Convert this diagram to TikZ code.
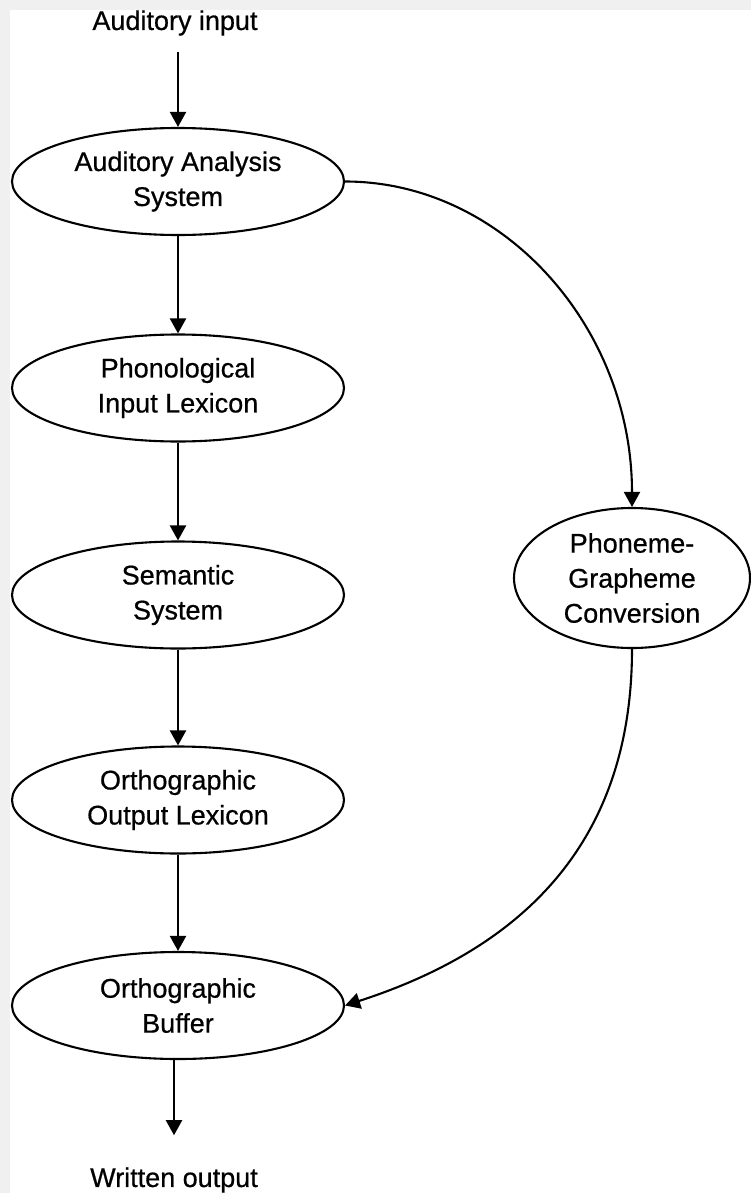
\documentclass[tikz,border=0pt]{standalone}
\usepackage{fontspec}
\setmainfont[FakeBold=0.6]{Liberation Sans}
\usetikzlibrary{shapes.geometric,arrows.meta}
\begin{document}
\begin{tikzpicture}[x=1pt,y=-1pt,
  module/.style={ellipse,draw,line width=2.1pt,inner sep=0pt,
    minimum width=332pt,minimum height=107pt,align=center,
    font=\fontsize{27}{35}\selectfont},
  iotext/.style={inner sep=0pt,font=\fontsize{27}{35}\selectfont},
  flow/.style={line width=2.1pt,-{Triangle[length=15pt,width=16pt]}}]
% page: light grey edge on the top and left
\fill[black!6] (0,0) rectangle (751,1193);
\fill[white] (10,10) rectangle (751,1193);
\useasboundingbox (0,0) rectangle (751,1193);

% modules
\node[iotext] (aud) at (175,23) {Auditory input};
\node[module] (aas) at (178,181.5) {Auditory Analysis\\System};
\node[module] (pil) at (178,388) {Phonological\\Input Lexicon};
\node[module] (sem) at (178,595) {Semantic\\System};
\node[module] (ool) at (178,800) {Orthographic\\Output Lexicon};
\node[module] (ob) at (178,1005.5) {Orthographic\\Buffer};
\node[module,minimum width=236pt,minimum height=140pt] (pg) at (632,578)
  {Phoneme-\\Grapheme\\Conversion};
\node[iotext] (out) at (174,1180) {Written output};

% lexical route
\draw[flow,shorten <=16pt] (aud.south -| aas.north) -- (aas.north);
\draw[flow] (aas) -- (pil);
\draw[flow] (pil) -- (sem);
\draw[flow] (sem) -- (ool);
\draw[flow] (ool) -- (ob);
\draw[flow,shorten >=32pt] (ob.south -| out.north) -- (out.north);

% sub-lexical route
\draw[flow] (aas.east) .. controls +(158,0) and +(0,-180) .. (pg.north);
\draw[flow] (pg.south) .. controls +(0,200) and +(170,-55) .. (ob.east);
\end{tikzpicture}
\end{document}
